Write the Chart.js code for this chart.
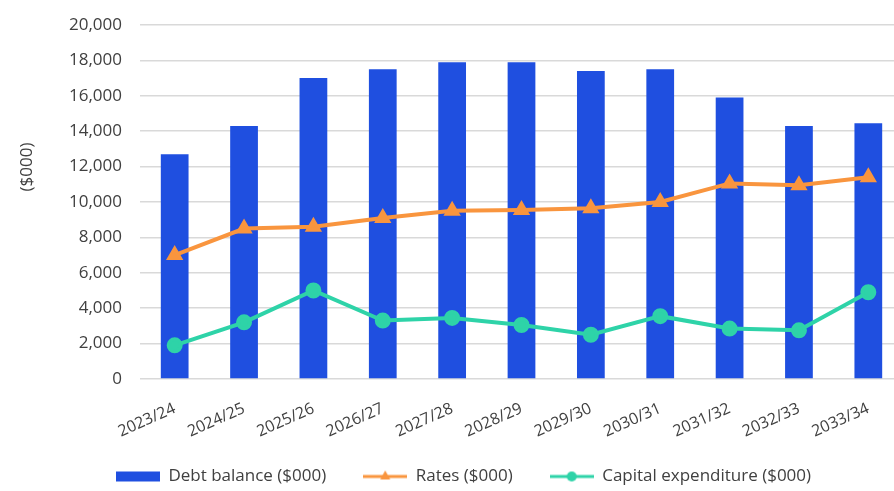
<!DOCTYPE html>
<html>
<head>
<meta charset="utf-8">
<script src="https://cdn.jsdelivr.net/npm/chart.js@4/dist/chart.umd.min.js"></script>
<style>
html,body{margin:0;padding:0;background:#fff;overflow:hidden;width:894px;height:491px;}
#wrap{position:absolute;left:0;top:0;width:930px;height:491px;}
</style>
</head>
<body>
<div id="wrap"><canvas id="c" width="930" height="491"></canvas></div>
<script>
const categories = ["2023/24","2024/25","2025/26","2026/27","2027/28","2028/29","2029/30","2030/31","2031/32","2032/33","2033/34"];
const debtBalance = [12700, 14300, 17000, 17500, 17900, 17900, 17400, 17500, 15900, 14300, 14450];
const rates = [7000, 8500, 8600, 9100, 9500, 9550, 9650, 10000, 11050, 10950, 11400];
const capex = [1900, 3200, 5000, 3300, 3450, 3050, 2500, 3550, 2850, 2750, 4900];
const yTicks = [0, 2000, 4000, 6000, 8000, 10000, 12000, 14000, 16000, 18000, 20000];
const yTitle = '($000)';

const BLUE = '#1f4fe0';
const ORANGE = '#f9953e';
const TEAL = '#2ed3a8';
const TEXT = '#404040';

function legendIcon(type, color) {
  const cv = document.createElement('canvas');
  cv.width = 44; cv.height = 14;
  const g = cv.getContext('2d');
  if (type === 'bar') {
    g.fillStyle = color;
    g.fillRect(0, 2, 44, 10);
  } else {
    g.strokeStyle = color; g.lineWidth = 3;
    g.beginPath(); g.moveTo(0, 7); g.lineTo(44, 7); g.stroke();
    g.fillStyle = color;
    if (type === 'tri') {
      g.beginPath(); g.moveTo(22, 1); g.lineTo(27, 10); g.lineTo(17, 10); g.closePath(); g.fill();
    } else {
      g.beginPath(); g.arc(22, 7, 5, 0, Math.PI * 2); g.fill();
    }
  }
  return cv;
}
const icons = [legendIcon('bar', BLUE), legendIcon('tri', ORANGE), legendIcon('circ', TEAL)];

const adjustLayout = {
  id: 'adjustLayout',
  afterLayout(chart) {
    const l = chart.legend;
    if (l) { l.left += 12; l.right += 12; }
    const x = chart.scales.x;
    if (x) { x.bottom += 14; }
  }
};

const axisTitle = {
  id: 'axisTitle',
  afterDraw(chart) {
    const ctx = chart.ctx;
    const a = chart.chartArea;
    ctx.save();
    ctx.translate(27, a.top + 142);
    ctx.rotate(-Math.PI / 2);
    ctx.fillStyle = TEXT;
    ctx.font = '17px "Open Sans"';
    ctx.textAlign = 'center';
    ctx.textBaseline = 'middle';
    ctx.fillText(yTitle, 0, 0);
    ctx.restore();
  }
};

new Chart(document.getElementById('c'), {
  data: {
    labels: categories,
    datasets: [
      { type: 'line', label: 'Rates ($000)', data: rates, borderColor: ORANGE, backgroundColor: ORANGE,
        borderWidth: 4, pointStyle: 'triangle', pointRadius: 6, pointHoverRadius: 6, tension: 0, order: 1 },
      { type: 'line', label: 'Capital expenditure ($000)', data: capex, borderColor: TEAL, backgroundColor: TEAL,
        borderWidth: 4, pointStyle: 'circle', pointRadius: 6, pointHoverRadius: 6, tension: 0, order: 0 },
      { type: 'bar', label: 'Debt balance ($000)', data: debtBalance, backgroundColor: BLUE,
        barPercentage: 0.4, categoryPercentage: 1, order: 2 }
    ]
  },
  plugins: [adjustLayout, axisTitle],
  options: {
    responsive: false,
    animation: false,
    layout: { padding: { top: 25, right: 27, bottom: -4, left: 0 } },
    plugins: {
      tooltip: { enabled: false },
      legend: {
        position: 'bottom',
        labels: {
          usePointStyle: true,
          pointStyleWidth: 44,
          padding: 37,
          color: TEXT,
          font: { family: 'Open Sans', size: 17 },
          generateLabels: (chart) => {
            const order = [2, 0, 1];
            return order.map((di, k) => ({
              text: chart.data.datasets[di].label,
              pointStyle: icons[k],
              fillStyle: 'transparent', strokeStyle: 'transparent', lineWidth: 0,
              fontColor: TEXT,
              datasetIndex: di, hidden: false
            }));
          }
        }
      }
    },
    scales: {
      x: {
        grid: { display: false },
        border: { display: false },
        ticks: { color: TEXT, font: { family: 'Open Sans', size: 16 }, minRotation: 24, maxRotation: 24, padding: 12 },
        afterFit: (s) => { s.height = 52; s.paddingLeft = 0; s.paddingRight = 0; }
      },
      y: {
        min: 0, max: 20000,
        afterBuildTicks: (s) => { s.ticks = yTicks.map(v => ({ value: v })); },
        grid: { color: '#d9d9d9', lineWidth: 1.5, drawTicks: false },
        border: { display: false },
        ticks: { color: TEXT, padding: 18, font: { family: 'Open Sans', size: 17 },
          callback: (v) => v.toLocaleString('en-US') },
        title: { display: false },
        afterFit: (s) => { s.width = 140; s.paddingTop = 0; s.paddingBottom = 0; }
      }
    }
  }
});
</script>
</body>
</html>
